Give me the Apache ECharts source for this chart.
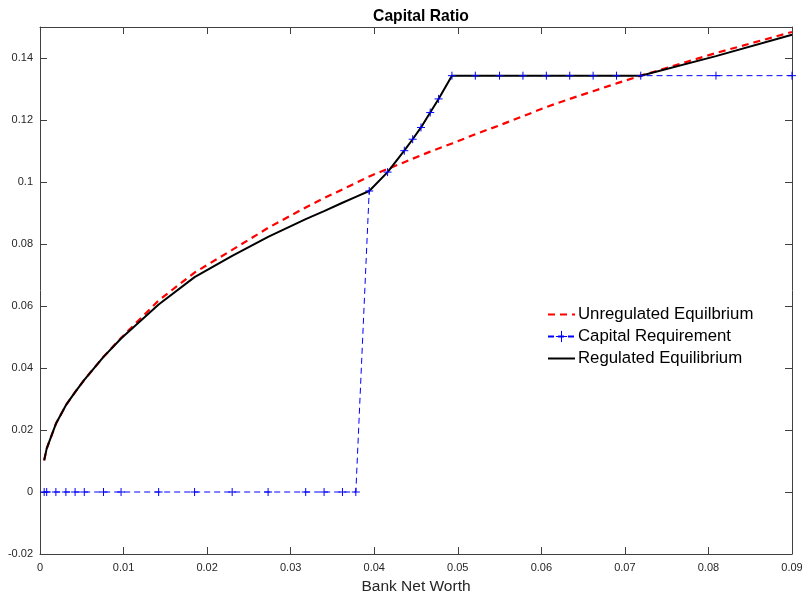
<!DOCTYPE html>
<html>
<head>
<meta charset="utf-8">
<script src="https://cdn.jsdelivr.net/npm/echarts@6/dist/echarts.min.js"></script>
<style>html,body{margin:0;padding:0;background:#fff}#c{width:806px;height:594px}</style>
</head>
<body>
<div id="c"></div>
<script>
var netWorth = [0.0005, 0.0008, 0.0019, 0.0031, 0.0042, 0.0053, 0.0076, 0.0097, 0.0142, 0.0185,
  0.0230, 0.0273, 0.0318, 0.0340, 0.0362, 0.0378, 0.0394, 0.0416, 0.0436, 0.0446,
  0.0456, 0.0467, 0.0477, 0.0493, 0.0521, 0.0550, 0.0578, 0.0606, 0.0634, 0.0662,
  0.0690, 0.0719, 0.0809, 0.0900];
var unregulated = [0.0102, 0.0140, 0.0220, 0.0280, 0.0322, 0.0362, 0.0436, 0.0497, 0.0618, 0.0708,
  0.0781, 0.0852, 0.0918, 0.0948, 0.0976, 0.0997, 0.1018, 0.1042, 0.1064, 0.1075,
  0.1086, 0.1098, 0.1108, 0.1124, 0.1154, 0.1183, 0.1212, 0.1242, 0.1268, 0.1293,
  0.1318, 0.1343, 0.1416, 0.1484];
var requirement = [0, 0, 0, 0, 0, 0, 0, 0, 0, 0,
  0, 0, 0, 0, 0, 0, 0.0971, 0.1032, 0.1101, 0.1138,
  0.1176, 0.1224, 0.1268, 0.1343, 0.1343, 0.1343, 0.1343, 0.1343, 0.1343, 0.1343,
  0.1343, 0.1343, 0.1343, 0.1343];
var regulated = [0.0102, 0.0140, 0.0220, 0.0280, 0.0322, 0.0362, 0.0436, 0.0495, 0.0605, 0.0693,
  0.0762, 0.0823, 0.0880, 0.0906, 0.0933, 0.0952, 0.0971, 0.1032, 0.1101, 0.1138,
  0.1176, 0.1224, 0.1268, 0.1343, 0.1343, 0.1343, 0.1343, 0.1343, 0.1343, 0.1343,
  0.1343, 0.1343, 0.1406, 0.1475];
var xTicks = [0, 0.01, 0.02, 0.03, 0.04, 0.05, 0.06, 0.07, 0.08, 0.09];
var yTicks = [-0.02, 0, 0.02, 0.04, 0.06, 0.08, 0.1, 0.12, 0.14];
var seriesNames = ['Unregulated Equilbrium', 'Capital Requirement', 'Regulated Equilibrium'];

function pairs(ys){ return netWorth.map(function(x,i){ return [x, ys[i]]; }); }

var axisCol = '#404040', labCol = '#262626';
var baseFont = 'Arial, "Liberation Sans", Helvetica, sans-serif';
function fmt(v){ return String(Math.round(v*1000)/1000); }
var hidden = {color: 'rgba(0,0,0,0)', borderColor: 'rgba(0,0,0,0)', borderWidth: 0};

var chart = echarts.init(document.getElementById('c'), null, {renderer:'canvas'});
chart.setOption({
  animation: false,
  backgroundColor: '#fff',
  title: {
    text: 'Capital Ratio', left: 416, top: 4, textAlign: 'center',
    textStyle: {fontFamily: baseFont, fontWeight: 'bold', fontSize: 15.7, color: '#000'}
  },
  grid: {left: 40, right: 14, top: 27, bottom: 40, containLabel: false, outerBoundsMode: 'none'},
  legend: {
    orient: 'vertical', left: 547, top: 306, padding: 0,
    itemWidth: 27, itemHeight: 14, itemGap: 5,
    textStyle: {fontFamily: baseFont, fontSize: 16.8, color: '#000', padding: [0,0,0,-2]},
    data: [
      {name: seriesNames[0], itemStyle: hidden},
      {name: seriesNames[1], itemStyle: {color: 'rgba(0,0,0,0)', borderColor: '#0000ff', borderWidth: 1}},
      {name: seriesNames[2], itemStyle: hidden}
    ]
  },
  xAxis: [{
    type: 'value', min: xTicks[0], max: xTicks[xTicks.length-1], interval: 0.01,
    name: 'Bank Net Worth', nameLocation: 'middle', nameGap: 25,
    nameTextStyle: {fontFamily: baseFont, fontSize: 15.5, color: labCol},
    axisLine: {show: true, onZero: false, lineStyle: {color: axisCol, width: 1}},
    axisTick: {show: true, inside: true, length: 7, lineStyle: {color: axisCol}},
    axisLabel: {fontFamily: baseFont, fontSize: 11, color: labCol, margin: 8, formatter: fmt},
    splitLine: {show: false}
  }, {
    type: 'value', position: 'top', min: xTicks[0], max: xTicks[xTicks.length-1], interval: 0.01,
    axisLine: {show: true, onZero: false, lineStyle: {color: axisCol, width: 1}},
    axisTick: {show: true, inside: true, length: 7, lineStyle: {color: axisCol}},
    axisLabel: {show: false}, splitLine: {show: false}
  }],
  yAxis: [{
    type: 'value', min: yTicks[0], max: 0.15, interval: 0.02,
    axisLine: {show: true, onZero: false, lineStyle: {color: axisCol, width: 1}},
    axisTick: {show: true, inside: true, length: 7, lineStyle: {color: axisCol}},
    axisLabel: {fontFamily: baseFont, fontSize: 11, color: labCol, margin: 7, showMaxLabel: false, formatter: fmt},
    splitLine: {show: false}
  }, {
    type: 'value', position: 'right', min: yTicks[0], max: 0.15, interval: 0.02,
    axisLine: {show: true, onZero: false, lineStyle: {color: axisCol, width: 1}},
    axisTick: {show: true, inside: true, length: 7, lineStyle: {color: axisCol}},
    axisLabel: {show: false}, splitLine: {show: false}
  }],
  series: [{
    name: seriesNames[0], type: 'line', data: pairs(unregulated),
    symbol: 'none', showSymbol: false,
    lineStyle: {color: '#ff0000', width: 2.2, type: [7, 5]},
    itemStyle: {color: '#ff0000'}
  }, {
    name: seriesNames[1], type: 'line', data: pairs(requirement),
    symbol: 'path://M5,0L5,10M0,5L10,5', symbolSize: 8, showSymbol: true,
    lineStyle: {color: '#0000ff', width: 1, type: [6, 4]},
    itemStyle: {color: 'rgba(0,0,0,0)', borderColor: '#0000ff', borderWidth: 1}
  }, {
    name: seriesNames[2], type: 'line', data: pairs(regulated),
    symbol: 'none', showSymbol: false,
    lineStyle: {color: '#000000', width: 2},
    itemStyle: {color: '#000000'}
  }]
});
</script>
</body>
</html>
